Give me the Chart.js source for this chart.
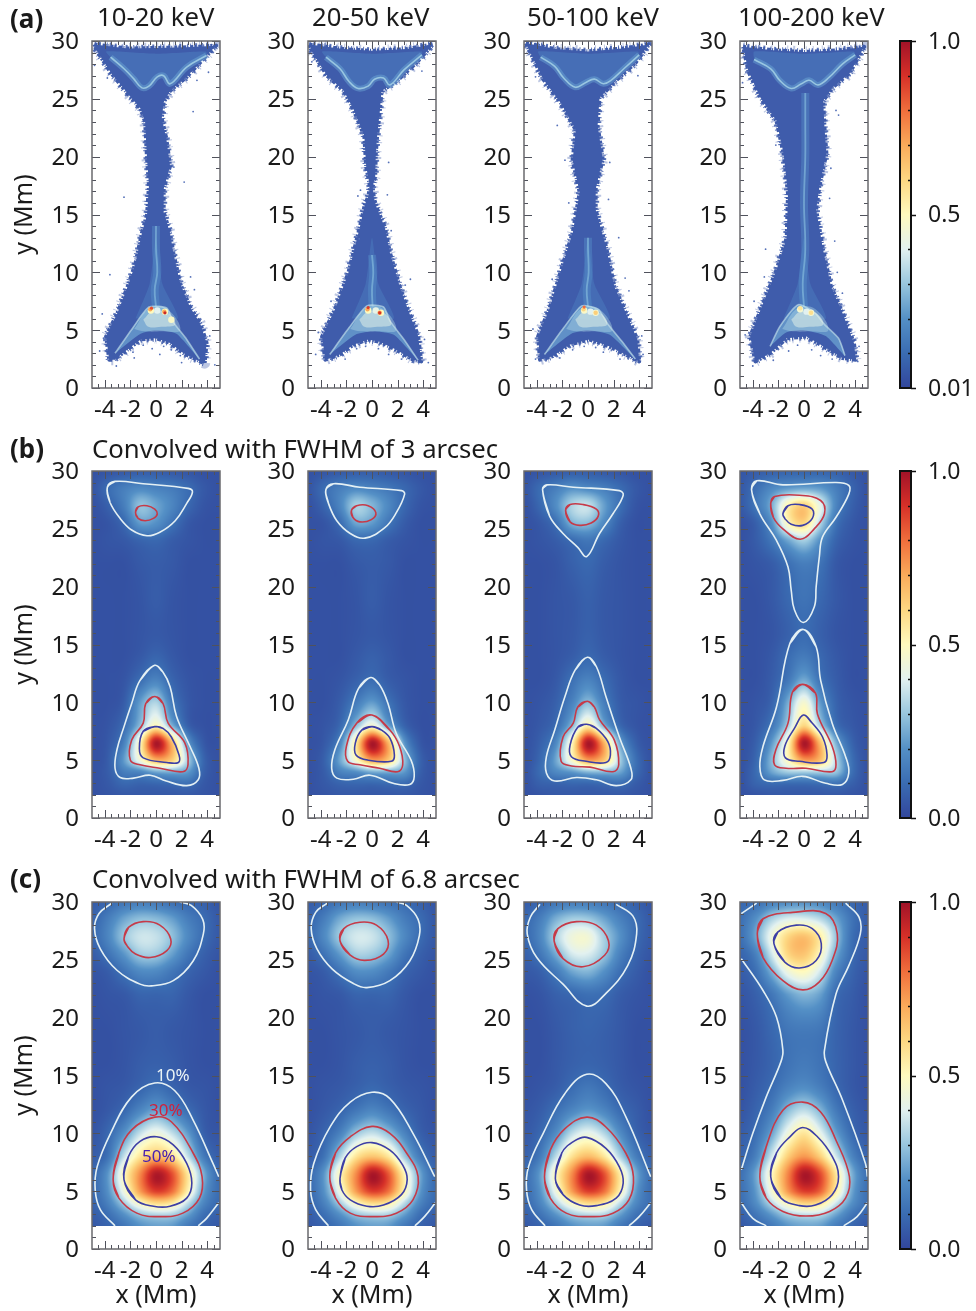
<!DOCTYPE html>
<html>
<head>
<meta charset="utf-8">
<script src="https://cdn.jsdelivr.net/npm/chart.js@4/dist/chart.umd.min.js"></script>
<style>
html, body { margin: 0; background: #fff; }
#page { position: relative; width: 976px; height: 1311px; overflow: hidden; font-family: "Noto Sans", sans-serif; color: #1a1a1a; }
#page canvas { position: absolute; }
.txt { position: absolute; white-space: nowrap; font-size: 25.7px; line-height: 30px; }
.tag { font-weight: 700; font-size: 26px; }
.lvl { font-size: 17px; line-height: 20px; }
</style>
</head>
<body>
<div id="page"></div>
<script>
const xTicks = [-4, -2, 0, 2, 4];
const yTicks = [0, 5, 10, 15, 20, 25, 30];
const xMinor = [-4.5, -3.5, -3, -2.5, -1.5, -1, -0.5, 0.5, 1, 1.5, 2.5, 3, 3.5, 4.5];
const yMinor = [1, 2, 3, 4, 6, 7, 8, 9, 11, 12, 13, 14, 16, 17, 18, 19, 21, 22, 23, 24, 26, 27, 28, 29];
const barTicks = [0, 0.5, 1];
const barMinor = [0.1, 0.2, 0.3, 0.4, 0.6, 0.7, 0.8, 0.9];
const barLabelsA = ["0.01", "0.5", "1.0"];
const barLabelsBC = ["0.0", "0.5", "1.0"];
const energies = ["10-20 keV", "20-50 keV", "50-100 keV", "100-200 keV"];

const mapStops = [0, 0.1, 0.2, 0.3, 0.4, 0.5, 0.6, 0.7, 0.8, 0.9, 1];
const mapColors = [[50,70,156],[58,108,178],[84,144,198],[152,198,222],[226,241,240],[255,250,190],[253,216,130],[250,170,90],[240,110,60],[214,48,40],[160,18,40]];

// heat maps: percent of peak, rows go from y=2 up to y=30
const gridX = [-5, -3.75, -2.5, -1.25, 0, 1.25, 2.5, 3.75, 5];
const gridY = [2, 3, 4, 5, 6.5, 8, 10, 12, 14, 16, 19, 22, 24, 25.5, 27, 28.5, 30];

const heatB1 = [
 [3,4,5,5,5,5,5,4,3],[3,5,9,8,9,10,11,5,3],[3,6,15,18,25,26,22,7,3],[3,6,22,45,68,62,32,8,3],
 [3,5,16,50,98,66,22,5,3],[3,4,10,28,50,26,7,3,3],[3,3,6,22,33,14,5,3,3],[3,3,4,10,16,8,4,3,3],
 [3,3,3,5,8,5,3,3,3],[3,3,3,4,5,4,3,3,3],[3,3,3,4,6,4,3,3,3],[3,3,3,5,6,5,3,3,3],
 [3,4,5,8,9,6,4,3,3],[3,4,9,22,20,12,5,3,3],[3,7,15,29,24,17,9,4,3],[4,10,15,18,16,14,10,5,3],[3,4,5,6,6,5,4,3,3]];
const heatB2 = [
 [3,4,5,5,5,5,5,4,3],[3,5,8,9,9,10,10,5,3],[3,6,16,20,26,26,22,7,3],[3,7,24,48,72,64,30,8,3],
 [3,5,17,55,98,68,22,5,3],[3,4,9,28,46,24,8,3,3],[3,3,6,14,22,12,5,3,3],[3,3,4,7,10,6,4,3,3],
 [3,3,3,5,7,5,3,3,3],[3,3,3,4,5,4,3,3,3],[3,3,3,4,6,4,3,3,3],[3,3,3,5,6,5,3,3,3],
 [3,4,5,9,9,6,4,3,3],[3,4,10,24,22,13,6,3,3],[3,8,17,32,27,18,9,4,3],[4,10,15,18,16,13,9,5,3],[3,4,5,6,6,5,4,3,3]];
const heatB3 = [
 [3,4,5,5,5,5,5,4,3],[3,7,8,9,9,10,11,6,3],[3,10,18,22,28,28,24,10,3],[3,9,24,48,72,64,32,11,3],
 [3,7,18,50,98,68,24,7,3],[3,5,10,27,52,26,9,4,3],[3,4,7,16,28,15,6,4,3],[3,3,5,11,16,10,5,3,3],
 [3,3,4,6,9,6,4,3,3],[3,3,4,5,7,5,4,3,3],[3,3,4,5,7,5,4,3,3],[3,3,4,7,9,6,4,3,3],
 [3,4,6,10,13,9,5,3,3],[3,5,11,26,28,18,7,3,3],[3,9,19,33,36,23,11,4,3],[4,10,15,20,18,15,10,5,3],[3,4,5,6,6,5,4,3,3]];
const heatB4 = [
 [3,4,5,5,5,5,5,4,3],[3,8,10,10,10,11,12,7,3],[3,10,24,32,33,33,30,11,3],[3,9,28,50,72,66,34,11,3],
 [3,7,22,50,98,66,26,8,3],[3,5,13,32,60,33,11,5,3],[3,4,8,25,46,22,8,4,3],[3,3,6,13,24,12,6,3,3],
 [3,3,5,10,14,9,5,3,3],[3,3,4,7,10,7,4,3,3],[3,3,5,9,12,9,5,3,3],[3,4,6,11,15,12,5,3,3],
 [3,6,13,24,32,20,8,4,3],[3,7,20,50,60,34,12,5,3],[5,13,26,52,62,42,17,7,3],[5,11,18,22,24,22,15,8,3],[4,6,7,8,8,8,7,5,3]];
const heatC1 = [
 [5,8,13,20,23,22,14,8,5],[6,11,20,30,34,33,23,11,7],[8,16,32,50,60,56,36,17,9],[9,20,44,72,88,80,52,22,10],
 [9,21,50,75,97,85,55,25,9],[6,12,36,56,65,58,36,14,6],[4,9,20,36,44,36,22,7,4],[3,5,9,17,23,17,10,5,3],
 [3,4,5,8,11,8,5,4,3],[3,3,4,6,7,6,4,3,3],[3,3,4,5,6,5,4,3,3],[3,4,5,8,8,8,5,3,3],
 [4,6,12,18,18,13,8,5,3],[6,12,21,31,31,23,13,7,4],[9,17,30,37,36,29,18,10,5],[8,15,24,29,28,23,15,10,5],[6,9,13,15,14,11,9,7,4]];
const heatC2 = [
 [5,8,13,20,23,22,14,8,5],[6,11,20,30,34,33,23,11,7],[8,16,32,50,60,56,36,17,9],[9,20,44,72,88,80,52,22,10],
 [9,21,50,75,98,84,52,24,9],[6,12,33,56,64,56,32,14,6],[4,8,16,30,36,29,17,7,4],[3,5,8,13,17,13,8,5,3],
 [3,4,5,7,9,7,5,4,3],[3,3,4,6,7,6,4,3,3],[3,3,4,5,6,5,4,3,3],[3,4,5,8,8,8,5,3,3],
 [4,6,12,19,19,14,8,5,3],[6,12,22,32,31,24,13,7,4],[9,18,31,38,37,29,18,10,5],[8,15,25,30,29,23,15,10,5],[6,9,13,15,14,12,10,7,4]];
const heatC3 = [
 [5,8,13,20,23,22,14,8,5],[7,12,21,31,35,34,23,12,8],[9,17,33,50,60,56,36,18,10],[10,20,44,72,88,80,52,22,10],
 [10,22,50,75,98,85,54,25,10],[7,14,35,57,66,56,33,15,7],[5,9,19,35,42,34,19,8,4],[4,6,11,17,21,17,10,6,3],
 [3,4,6,10,13,10,6,4,3],[3,3,5,7,8,7,5,3,3],[3,3,5,7,8,7,5,3,3],[3,4,7,9,11,10,6,4,3],
 [5,7,14,24,27,20,11,6,3],[7,13,25,38,39,30,16,8,4],[9,17,33,44,45,32,20,10,5],[9,15,26,32,31,24,16,10,5],[6,9,13,15,15,13,10,7,4]];
const heatC4 = [
 [5,9,14,21,24,23,15,9,5],[7,13,22,32,36,35,24,13,8],[10,19,35,52,62,58,38,20,11],[11,22,46,73,88,82,54,24,11],
 [11,24,50,76,98,86,56,26,11],[8,16,38,62,73,62,38,17,8],[6,11,24,44,56,42,23,10,5],[4,8,15,28,35,27,14,7,4],
 [3,6,10,16,19,15,9,5,3],[3,5,8,12,14,12,8,5,3],[3,5,9,13,14,13,8,5,3],[4,7,13,22,27,23,10,6,3],
 [6,11,26,44,50,38,17,8,4],[8,16,38,60,64,50,25,10,5],[11,24,44,60,65,54,30,11,6],[11,20,33,40,40,35,24,12,6],[9,11,16,19,20,18,14,9,6]];

// contours of row b
const b1WhiteTop = [[-3.8,28.6],[-3.2,29.1],[-1,28.9],[2.5,28.5],[2.85,28.2],[2.4,27.2],[1.5,25.7],[0.3,24.7],[-0.7,24.4],[-1.9,24.9],[-2.8,25.9],[-3.6,27.3],[-3.8,28.6]];
const b1RedTop = [[-1.6,26.4],[-1.4,26.9],[-0.7,27],[-0.1,26.7],[0.1,26.3],[-0.2,25.9],[-0.85,25.7],[-1.4,25.9],[-1.6,26.4]];
const b1WhiteLow = [[-0.1,13.2],[-1.25,11.9],[-1.9,9.9],[-2.5,7.9],[-3.05,5.9],[-3.2,4.3],[-2.8,3.5],[-1.75,3.45],[-0.45,3.7],[0.8,3.2],[2.4,2.8],[3.3,3.3],[3.35,4.3],[2.65,6.2],[1.6,8.8],[1.1,11.35],[0.55,12.6],[-0.1,13.2]];
const b1RedLow = [[-0.1,10.5],[-0.8,9.9],[-1,8.2],[-1.9,6.75],[-2,5],[-1.25,4.6],[0.3,4.3],[2.1,4],[2.5,4.6],[2.25,6.5],[0.95,8.2],[0.55,9.9],[-0.1,10.5]];
const b1BlueLow = [[-0.1,7.9],[-1,7.5],[-1.3,6],[-1,5.2],[0.85,4.8],[1.75,4.8],[1.8,5.45],[1.2,7],[0.55,7.75],[-0.1,7.9]];

const b2WhiteTop = [[-3.6,28.4],[-3,28.9],[-0.95,28.6],[2.3,28.3],[2.55,28],[1.9,26.4],[1,25.1],[-0.55,24.2],[-1.7,24.6],[-2.75,25.7],[-3.4,27.2],[-3.6,28.4]];
const b2RedTop = [[-1.6,26.6],[-1.2,27],[-0.3,27],[0.3,26.4],[-0.05,25.8],[-0.95,25.6],[-1.5,26],[-1.6,26.6]];
const b2WhiteLow = [[-0.1,12.15],[-1.05,11.2],[-1.85,8.5],[-2.9,5.9],[-3.15,4.3],[-2.75,3.45],[-1.45,3.35],[-0.15,3.7],[1.65,3],[2.95,2.9],[3.3,3.6],[3.05,5],[1.9,7.3],[1.25,9.9],[0.6,11.5],[-0.1,12.15]];
const b2RedLow = [[0,8.9],[-1.2,8.2],[-2,6.2],[-1.9,4.9],[-0.95,4.6],[0.6,4.3],[2,4],[2.4,4.6],[2.15,6.2],[1.4,7.6],[0,8.9]];
const b2BlueLow = [[0,7.9],[-0.8,7.6],[-1.3,6.5],[-1.25,5.45],[-0.3,5],[1.5,4.9],[1.75,5.45],[1.4,6.9],[0.75,7.6],[0,7.9]];

const b3WhiteTop = [[-3.55,28.4],[-3.2,28.8],[-1.15,28.6],[2.45,28.3],[2.75,27.9],[1.95,26.3],[0.9,24.6],[-0.1,22.6],[-0.8,23.4],[-1.95,24.6],[-3,26.1],[-3.55,28.4]];
const b3RedTop = [[-1.75,26.6],[-1.4,27.1],[-0.4,27.1],[0.65,26.7],[0.8,26.1],[0.25,25.5],[-0.65,25.3],[-1.4,25.6],[-1.75,26.6]];
const b3WhiteLow = [[-0.05,13.9],[-1,12.8],[-1.8,10.5],[-2.6,7.6],[-3.25,5.3],[-3.25,3.9],[-2.6,3.2],[-0.9,3.5],[0.65,3.3],[2.2,2.8],[3.35,3.3],[3.35,4.3],[2.45,7],[1.4,10.5],[0.65,13.1],[-0.05,13.9]];
const b3RedLow = [[-0.05,10.1],[-0.8,9.6],[-1.15,8.2],[-1.95,7],[-2.1,4.9],[-1.3,4.5],[0.15,4.4],[1.95,4],[2.4,4.6],[2.05,6.75],[0.9,8.5],[0.5,9.6],[-0.05,10.1]];
const b3BlueLow = [[-0.1,8.1],[-0.8,7.85],[-1.4,6.3],[-1.3,5.3],[-0.15,4.9],[1.4,4.8],[1.75,5.45],[1.55,6.6],[0.65,7.75],[-0.1,8.1]];

const b4WhiteTop = [[-4.1,28.4],[-3.7,29.15],[-1.65,28.8],[2.5,29],[3.5,28.75],[3.5,28],[2.5,26],[1.45,24.3],[1.2,22.6],[0.95,20],[0.8,18.25],[-0.05,16.9],[-0.75,18],[-1,19.7],[-1.25,21.7],[-2.15,24],[-3.45,26.3],[-4.1,28.4]];
const b4RedTop = [[-2.6,27.2],[-2.3,27.8],[-0.35,27.9],[1.3,27.45],[1.6,26.3],[0.8,25],[-0.3,24.1],[-1.65,25],[-2.4,26],[-2.6,27.2]];
const b4BlueTop = [[-1.65,26.3],[-1.25,27],[-0.35,27.1],[0.65,26.7],[0.65,25.9],[-0.1,25.3],[-1,25.4],[-1.5,25.9],[-1.65,26.3]];
const b4WhiteLow = [[-0.05,16.3],[-1.1,15.1],[-2.15,9.6],[-3.2,6.2],[-3.45,4.45],[-3.1,3.3],[-1.65,3.25],[-0.1,3.6],[1.7,3],[3,2.9],[3.5,3.9],[3.25,5.3],[2.2,8.2],[1.3,11.9],[0.95,14.8],[-0.05,16.3]];
const b4RedLow = [[-0.1,11.55],[-0.9,10.9],[-1.25,8.2],[-2.2,5.9],[-2.3,4.6],[-1.4,4.3],[0.15,4.3],[2.2,4],[2.5,4.6],[2.2,6.2],[1.05,9],[0.9,10.8],[-0.1,11.55]];
const b4BlueLow = [[-0.05,8.9],[-0.75,7.75],[-1.5,6.2],[-1.45,5.2],[-0.35,4.9],[1.55,4.8],[1.8,5.45],[1.45,7],[0.65,8.2],[-0.05,8.9]];

// contours of row c
const c1WhiteTop = [[-3.45,29.9],[-4.45,29],[-4.8,27.7],[-4.35,25.95],[-3.05,24.1],[-1.25,22.9],[-0.35,22.75],[1.35,23.2],[2.9,24.9],[3.7,27.25],[3.65,28.5],[2.75,29.7],[1.85,30]];
const c1RedTop = [[-2.5,26.8],[-2.15,27.8],[-1,28.3],[0.3,28],[1.15,26.8],[0.85,25.8],[-0.45,25.2],[-1.6,25.5],[-2.25,26.2],[-2.5,26.8]];
const c1WhiteLow = [[-3.2,2],[-4.35,3.4],[-4.75,5.1],[-4.6,7.1],[-3.55,10],[-1.9,13.15],[-0.1,14.35],[1.45,13.7],[2.9,11.15],[4.45,7.4],[4.9,6.25]];
const c1WhiteCorner = [[4.9,4],[3.95,2.65],[3.3,2]];
const c1RedLow = [[-3.35,6],[-2.9,8.3],[-1.9,10.3],[-0.1,11.4],[1.2,11],[2.9,8.3],[3.6,6.25],[3.4,4.4],[2.1,3.1],[0.3,2.8],[-1.5,3.1],[-2.9,4.4],[-3.35,6]];
const c1BlueLow = [[-2.5,6],[-2.15,8],[-1.25,9.3],[0.05,9.7],[1.35,9],[2.4,7.4],[2.8,5.7],[2.4,4.4],[1.1,3.7],[-0.2,3.7],[-1.6,4.25],[-2.5,6]];

const c2WhiteTop = [[-3.5,29.9],[-4.4,29.1],[-4.75,27.7],[-4.3,25.95],[-3.1,24.2],[-1.45,22.95],[-0.4,22.6],[1.4,23.2],[2.95,24.9],[3.7,27.1],[3.6,28.5],[2.7,29.7],[1.9,30]];
const c2RedTop = [[-2.5,26.65],[-2.2,27.7],[-0.95,28.25],[0.35,28],[1.25,26.7],[0.9,25.5],[-0.55,24.95],[-1.7,25.4],[-2.5,26.65]];
const c2WhiteLow = [[-3.4,2],[-4.4,3.4],[-4.8,5.1],[-4.55,7.4],[-3.25,10.6],[-1.7,12.7],[0,13.55],[1.4,13],[3.2,10],[4.9,6.25]];
const c2WhiteCorner = [[4.95,4],[4.1,2.8],[3.35,2]];
const c2RedLow = [[-3.3,6.25],[-2.85,8.3],[-1.7,9.7],[0,10.6],[1.4,10],[2.7,8.3],[3.6,6.25],[3.2,4.25],[1.9,3.1],[0.1,2.8],[-1.7,3.1],[-2.85,4.4],[-3.3,6.25]];
const c2BlueLow = [[-2.5,6.1],[-2.1,7.85],[-1.2,8.85],[0,9.2],[1.4,8.55],[2.4,7.25],[2.75,6],[2.3,4.7],[0.9,3.8],[-0.4,3.7],[-1.7,4.25],[-2.35,5.1],[-2.5,6.1]];

const c3WhiteTop = [[-3.75,29.8],[-4.5,28.7],[-4.75,27.25],[-4,25.2],[-1.95,22.9],[-0.1,21],[1.4,22.1],[3.1,24.5],[3.8,27.25],[3.5,28.8],[2.2,29.8]];
const c3RedTop = [[-2.65,26.65],[-2.35,27.7],[-0.9,28.3],[0.65,28],[1.6,26.65],[1.3,25.4],[-0.4,24.4],[-1.95,25.1],[-2.65,26.65]];
const c3WhiteLow = [[-3.35,2],[-4.4,3.4],[-4.8,5.1],[-4.65,7.1],[-3.5,10],[-1.8,13.45],[-0.1,15.1],[1.4,14.3],[2.95,11.45],[4.9,6.25]];
const c3WhiteCorner = [[4.9,4],[4,2.8],[3.2,2]];
const c3RedLow = [[-3.4,6.25],[-2.95,8.55],[-1.8,10.4],[-0.1,11.4],[1.4,10.55],[2.95,8.3],[3.55,6.25],[3.2,4.25],[1.95,3.1],[0.15,2.8],[-1.7,3.1],[-2.95,4.4],[-3.4,6.25]];
const c3BlueLow = [[-2.55,6.1],[-2.05,8.3],[-1.05,9.35],[-0.1,9.65],[1.4,8.7],[2.45,7.1],[2.75,5.7],[2.2,4.4],[0.65,3.75],[-0.65,3.8],[-1.95,4.7],[-2.55,6.1]];

const c4WhiteLeft = [[-4.9,25.1],[-3.2,22.35],[-2.15,20.05],[-1.65,17.2],[-1.8,16.2],[-2.95,13.15],[-4,10],[-4.9,6.85]];
const c4WhiteRight = [[3.25,29.9],[4.3,28.7],[4.4,27.25],[3.5,24.5],[2.5,22.05],[1.6,17.2],[1.7,16.2],[3,12.9],[4.8,7.4],[4.95,6.25]];
const c4WhiteCornerTop = [[-4.9,29],[-3.7,29.9]];
const c4WhiteCornerL = [[-4.9,4],[-4,2.65],[-2.95,2]];
const c4WhiteCornerR = [[4.95,4],[4.15,2.8],[3.1,2]];
const c4RedTop = [[-3.65,27.25],[-3.2,28.55],[-0.9,29.1],[1.7,29],[2.6,27.25],[2.2,24.95],[1.2,23.1],[-0.1,22.4],[-1.65,23.2],[-3.2,25.2],[-3.65,27.25]];
const c4BlueTop = [[-2.35,26.4],[-2.05,27.4],[-0.6,28],[0.65,27.7],[1.35,26.4],[0.95,24.95],[-0.35,24.3],[-1.5,24.8],[-2.35,26.4]];
const c4RedLow = [[-3.45,6.25],[-2.95,8.85],[-1.65,12],[-0.1,12.7],[1.3,11.85],[2.5,9.4],[3.55,6.25],[3.25,4.4],[2,3.25],[0.15,2.85],[-1.65,3.25],[-2.95,4.4],[-3.45,6.25]];
const c4BlueLow = [[-2.6,6.25],[-2.15,8.3],[-1.1,9.7],[-0.1,10.5],[1.05,9.7],[2.2,8],[2.7,6.25],[2.2,4.7],[0.9,3.8],[-0.35,3.75],[-1.8,4.4],[-2.6,6.25]];

// row a: outline of the particle cloud, bright arcs, arch over the footpoints, hot pixels [x, y, percent]
const a1Outline = [[-4.8,29.7],[-2.2,29.35],[0,29.4],[2.4,29.45],[4.7,29.6],[3.95,28.75],[2.4,26.9],[1.1,25.7],[0.6,24.7],[0.45,23.3],[0.8,21.6],[1.1,19.2],[0.6,17.2],[0.6,15.2],[1.1,13.4],[1.35,11.7],[1.9,9],[2.65,7],[3.45,5.6],[3.95,3.9],[3.8,2.15],[3.45,2.3],[2.15,3],[1.1,3.9],[0,4.3],[-1.2,4.2],[-2.25,3.3],[-3.3,2.45],[-3.65,2.45],[-3.9,4.45],[-3,6.5],[-2.1,9.1],[-1.6,10.8],[-1.1,13.4],[-0.7,15],[-0.55,17.5],[-0.7,19.8],[-0.85,23],[-1.2,24.15],[-2.1,25.3],[-3.55,27.3],[-4.7,29.3],[-4.8,29.7]];
const a2Outline = [[-4.9,29.7],[-2.2,29.3],[0,29.15],[2.7,29.3],[4.75,29.7],[3.45,28.1],[1.9,26.5],[0.75,25.7],[0.6,23.8],[0.4,21.8],[0.3,20.3],[0.25,18.3],[0.05,17.4],[0.15,16.4],[0.4,15.5],[1,13.9],[1.4,11.7],[2.15,8.8],[2.8,6.8],[3.6,4.5],[3.85,2.3],[3.2,2.45],[1.9,3.3],[0.6,4],[-0.3,4.2],[-1.45,3.75],[-2.5,2.9],[-3.65,2.45],[-3.9,4.45],[-2.85,6.9],[-1.85,9.95],[-0.95,13.9],[-0.55,15.9],[-0.3,16.5],[-0.15,17.4],[-0.45,19.1],[-0.6,21.8],[-1.45,24.1],[-2.2,25.7],[-3.5,27],[-4.7,29.1],[-4.9,29.7]];
const a3Outline = [[-4.85,29.8],[-2.5,29.3],[0,29.1],[2.7,29.35],[4.75,29.7],[3.7,28.1],[2.15,26.55],[0.9,25.1],[0.75,22.7],[1.15,19.8],[0.6,17.2],[0.6,15.4],[1.4,12.25],[2.05,8.8],[2.95,6.5],[3.85,4.2],[4,2.3],[3.2,2.75],[1.65,3.6],[0.1,4.2],[-1.45,3.75],[-2.75,2.75],[-3.75,2.45],[-3.9,4.45],[-3,6.9],[-1.85,11.1],[-1.2,13.4],[-0.65,16.9],[-1.2,19.7],[-0.95,22.3],[-2.1,24.6],[-3.5,26.7],[-4.55,29.1],[-4.85,29.8]];
const a4Outline = [[-4.75,29.5],[-2.4,29.2],[0,29.05],[2.75,29.2],[4.7,29.5],[3.55,27.2],[2.25,26],[1.5,24.85],[1.6,22.5],[1.75,20.3],[1.2,17.4],[0.95,15.4],[1.5,11.9],[2.1,8.8],[3,6.5],[3.9,3.9],[4.05,2.45],[3,2.6],[1.5,3.6],[0.2,4.45],[-1.35,4.3],[-2.65,3],[-3.8,2.3],[-4.2,4.45],[-3.2,7.3],[-2.15,10.2],[-1.35,13],[-1.25,16.8],[-1.6,20.3],[-2.15,23.1],[-3.4,25.1],[-4.35,27.4],[-4.75,29.5]];

const a1Arc = [[-3.55,28.6],[-2.5,27.6],[-1.75,26.75],[-1.1,25.95],[-0.55,26.1],[0.1,26.9],[0.6,27],[1.1,26.3],[2.4,27.75],[3.95,28.75]];
const a2Arc = [[-3.6,28.6],[-2.5,27.6],[-1.8,26.5],[-1.1,25.9],[-0.3,26.1],[0.2,26.7],[0.9,26.8],[1.4,26.2],[2.5,27.5],[3.9,28.8]];
const a3Arc = [[-3.7,28.6],[-2.6,27.8],[-1.9,26.8],[-1,26],[-0.2,26.4],[0.5,26.7],[1.2,26.3],[1.8,26.6],[2.8,27.6],[4,28.8]];
const a4Arc = [[-3.9,28.4],[-2.6,27.6],[-1.9,26.6],[-1,25.9],[-0.2,26.3],[0.4,26.6],[1.1,26.2],[2,26.9],[3,28],[4,28.8]];
const topEdge = [[3.9,29.1],[0,28.9],[-3.9,29.1]];

const a1Arch = [[-3.2,3],[-1.75,5.3],[-0.55,7],[0.85,6.9],[1.35,5.7],[2.4,4.2],[3.4,2.5],[1.6,4.7],[0,5],[-1.2,4.7],[-3.2,3]];
const a2Arch = [[-3.3,2.9],[-1.8,5.2],[-0.4,7.1],[0.9,7],[1.4,5.8],[2.5,4.2],[3.6,2.4],[1.7,4.6],[0,4.9],[-1.3,4.6],[-3.3,2.9]];
const a3Arch = [[-3.4,2.9],[-1.9,5.2],[-0.5,7.1],[0.8,6.8],[1.5,5.6],[2.6,4.1],[3.7,2.5],[1.7,4.6],[0,5],[-1.3,4.7],[-3.4,2.9]];
const a4Arch = [[-2.65,3.6],[-1.9,5.3],[-0.45,7.2],[0.85,6.5],[1.6,5.5],[2.7,4.3],[3.2,2.8],[1.7,4.5],[0,5],[-1.4,4.8],[-2.65,3.6]];
const archMid = [[-1.7,5.1],[-0.5,6.9],[0.9,6.8],[1.9,5],[0.5,4.9],[-0.9,4.9],[-1.7,5.1]];
const archCore = [[-1,5.9],[-0.3,6.6],[0.9,6.5],[1.5,5.5],[0.4,5.3],[-0.6,5.3],[-1,5.9]];
const fanGlow = [[-1.6,6],[-0.5,9],[0,13],[0.5,9],[1.7,6],[-1.6,6]];

const a1Column = [[0,7],[-0.1,8.5],[0.1,10],[0,12],[0,14]];
const a2Column = [[0.05,7],[0,8.5],[0.1,10],[0,11.5]];
const a3Column = [[0,7],[-0.1,8.5],[0.05,10],[0,12],[0,13]];
const a4Column = [[0,7],[-0.1,9],[0.1,12],[0,16],[0.1,20],[0.1,23],[0.1,25.5]];

const a1Hot = [[-0.4,6.7,50],[0.1,6.7,40],[0.7,6.6,50],[1.2,5.9,48],[-0.45,6.8,70],[0.65,6.6,70],[-0.35,6.9,85],[0.7,6.5,92]];
const a2Hot = [[-0.3,6.7,50],[0.3,6.7,42],[0.7,6.5,50],[-0.35,6.8,70],[0.6,6.5,72],[-0.3,6.95,88],[0.6,6.5,90]];
const a3Hot = [[-0.3,6.7,48],[0.2,6.6,40],[0.6,6.5,46],[-0.35,6.8,60],[0.6,6.5,62],[-0.3,7,80]];
const a4Hot = [[-0.3,6.8,46],[0.2,6.6,40],[0.55,6.5,46],[-0.3,6.9,56],[0.55,6.5,58]];

const a1Stray = [[-4.8,27.9],[-3.8,26.8],[3.2,26.6],[4.1,27.3],[2.2,17.8],[1.4,19.1],[-2.5,16.5],[2.9,23.9],[-3.6,9.8],[2.7,9.6],[3,8.5],[-4.2,6.4],[-4.1,4.3],[4.2,4.5],[-4.4,3.2],[4.6,2],[-3.1,1.9],[-1.7,2.6],[0.3,2.9],[2,2.2],[-1,3.7],[-0.3,3.4],[0.6,3.6],[1.2,3.3],[-1.8,3.1],[1.9,2.8]];
const a2Stray = [[-4.7,28.2],[3.9,27.4],[1.3,19.5],[-1.1,16.6],[-0.9,17.1],[1.2,16.7],[2.6,8.9],[3,9.4],[-3.2,7.5],[-4.2,4.8],[4.1,4.2],[-4.4,2.9],[4.4,2.2],[-1.2,3.4],[-0.5,3.6],[0.5,3.4],[1.3,2.9],[-2.1,2.5],[2.3,2.5],[-1,12.9],[1.5,13.6]];
const a3Stray = [[-4.1,26.9],[3.9,27],[-2.4,22.7],[-1.8,19.7],[1.7,19.5],[1.6,16.3],[-1.5,16],[2.4,13],[2.9,9.5],[-2.8,9.4],[-4.3,5.1],[4.2,4.5],[4.3,2.9],[-4.1,2.5],[-1.2,3.3],[-0.3,3.6],[0.6,3.5],[1.2,3.1],[-2.2,2.6],[2.5,2.5],[3.2,8.4]];
const a4Stray = [[-4.8,26.4],[-4.5,28],[3.6,27],[2.5,24],[2.7,23.6],[-2.2,21],[2.1,19],[2,16.4],[2.4,12.7],[-3,12],[-3.1,9.6],[2.6,10],[3,8.2],[-3.9,7.5],[-4.6,4.6],[4.3,3.6],[4.2,2.3],[-4,1.9],[-1.2,3.2],[-0.5,3.7],[0.6,3.3],[1.3,2.8],[-2.4,2.4],[2.2,2.5]];

const white = "#e4f0f4", red = "#c63a48", blue = "#3d3fa6";
const hotRadius = v => v > 78 ? 1.6 : v > 55 ? 2.2 : 3.2;

const colL = [92, 307.5, 524, 740];
const rowT = [41, 471, 902];
const plotW = 128.5, plotH = 347;
const page = document.getElementById("page");

function colorAt(t) {
    t = Math.max(0, Math.min(1, t));
    let i = Math.min(Math.floor(t * 10), 9);
    const f = (t - mapStops[i]) / (mapStops[i + 1] - mapStops[i]);
    return mapColors[i].map((c, k) => c + (mapColors[i + 1][k] - c) * f);
}

const catmull = (a, b, c, d, t) => b + 0.5 * t * (c - a + t * (2 * a - 5 * b + 4 * c - d + t * (3 * (b - c) + d - a)));

function fieldAt(grid, xv, yv) {
    const fx = Math.max(0, Math.min(gridX.length - 1.001, (xv - gridX[0]) / (gridX[1] - gridX[0])));
    let j = 0;
    while (j < gridY.length - 2 && yv > gridY[j + 1]) j++;
    const fy = Math.max(0, Math.min(1, (yv - gridY[j]) / (gridY[j + 1] - gridY[j])));
    const i = Math.floor(fx), tx = fx - i;
    const rows = [];
    for (let r = j - 1; r <= j + 2; r++) {
        const row = grid[Math.max(0, Math.min(grid.length - 1, r))];
        const at = k => row[Math.max(0, Math.min(row.length - 1, k))];
        rows.push(catmull(at(i - 1), at(i), at(i + 1), at(i + 2), tx));
    }
    return catmull(rows[0], rows[1], rows[2], rows[3], fy);
}

// paints the grid behind the datasets, pixel to value through the chart's own scales
function heatPlugin(grid) {
    return {
        id: "heat",
        beforeDatasetsDraw(chart) {
            const { x, y } = chart.scales, a = chart.chartArea;
            const top = Math.round(y.getPixelForValue(30)), bottom = Math.round(y.getPixelForValue(2));
            const left = Math.round(a.left), w = Math.round(a.width), h = bottom - top;
            const img = chart.ctx.createImageData(w, h);
            for (let py = 0; py < h; py++) {
                const yv = y.getValueForPixel(top + py + 0.5);
                for (let px = 0; px < w; px++) {
                    const c = colorAt(fieldAt(grid, x.getValueForPixel(left + px + 0.5), yv) / 100);
                    const o = (py * w + px) * 4;
                    img.data[o] = c[0]; img.data[o + 1] = c[1]; img.data[o + 2] = c[2]; img.data[o + 3] = 255;
                }
            }
            chart.ctx.putImageData(img, left, top);
        }
    };
}

const framePlugin = {
    id: "frame",
    afterDatasetsDraw(chart) {
        const { ctx, chartArea: a, scales: { x, y } } = chart;
        ctx.save();
        ctx.strokeStyle = "#50525c";
        ctx.lineWidth = 1;
        const tx = (v, len) => {
            const p = Math.round(x.getPixelForValue(v)) + 0.5;
            ctx.moveTo(p, a.top); ctx.lineTo(p, a.top + len);
            ctx.moveTo(p, a.bottom); ctx.lineTo(p, a.bottom - len);
        };
        const ty = (v, len) => {
            const p = Math.round(y.getPixelForValue(v)) + 0.5;
            ctx.moveTo(a.left, p); ctx.lineTo(a.left + len, p);
            ctx.moveTo(a.right, p); ctx.lineTo(a.right - len, p);
        };
        ctx.beginPath();
        xTicks.forEach(v => tx(v, 8));
        xMinor.forEach(v => tx(v, 4));
        yTicks.forEach(v => ty(v, 8));
        yMinor.forEach(v => ty(v, 4));
        ctx.stroke();
        ctx.strokeStyle = "#6a6a6e";
        ctx.lineWidth = 1.5;
        ctx.strokeRect(a.left, a.top, a.width, a.height);
        ctx.restore();
    }
};

const toXY = pts => pts.map(p => ({ x: p[0], y: p[1] }));
const zeroPad = s => { s.paddingTop = s.paddingBottom = s.paddingLeft = s.paddingRight = 0; };

function line(pts, color, width, tension = 0.4) {
    const first = pts[0], last = pts[pts.length - 1];
    const closed = first[0] === last[0] && first[1] === last[1];
    // closed contours run over their join so the spline has no corner there
    const run = closed ? [pts[pts.length - 2], ...pts, pts[1]] : pts;
    return { data: toXY(run), showLine: true, borderColor: color, borderWidth: width, pointRadius: 0, tension, fill: false };
}

function shape(pts, fillColor, tension = 0.2) {
    return { data: toXY(pts), showLine: true, tension, pointRadius: 0, borderWidth: 0, backgroundColor: fillColor, fill: "shape" };
}

function edge(pts, color, width, dash) {
    return { data: toXY(pts), showLine: true, tension: 0, pointRadius: 0, borderColor: color, borderWidth: width, borderDash: dash, borderJoinStyle: "round", fill: false };
}

function cloudDatasets(outline, arc, arch, column, hot, stray) {
    const wash = [...arc, ...topEdge, arc[0]];
    const archTop = arch.slice(0, 7);
    return [
        edge(outline, "rgba(62,92,172,.35)", 11, [1, 8, 1, 5, 2, 11, 1, 6]),
        edge(outline, "rgba(62,92,172,.85)", 7, [1, 3, 2, 6, 1, 2, 1, 4, 2, 5]),
        edge(outline, "#3f5cab", 4, [3, 1, 2, 2, 4, 1, 1, 2]),
        shape(outline, "#3f5cab", 0),
        shape(wash, "rgba(80,135,198,.42)"),
        shape(fanGlow, "rgba(80,135,198,.38)"),
        line(column, "rgba(90,150,205,.38)", 8),
        line(column, "rgba(140,195,225,.6)", 1.8),
        line(arc, "rgba(110,170,215,.45)", 6),
        line(arc, "rgba(175,220,235,.75)", 1.6),
        shape(arch, "rgba(118,178,218,.6)"),
        shape(archMid, "rgba(180,220,232,.4)", 0.4),
        line(archTop, "rgba(205,233,238,.6)", 1.6, 0.2),
        shape(archCore, "rgba(232,244,232,.5)", 0.4),
        { data: toXY(hot), pointRadius: hot.map(p => hotRadius(p[2])), pointBorderWidth: 0, pointBackgroundColor: hot.map(p => { const c = colorAt(p[2] / 100); return `rgb(${c[0]},${c[1]},${c[2]})`; }) },
        { data: toXY(stray), pointRadius: 0.9, pointBorderWidth: 0, pointBackgroundColor: "#5470b8" }
    ];
}

function contourDatasets(items) {
    return items.map(([pts, color]) => line(pts, color, 1.6));
}

function addPanel(row, col, datasets, grid) {
    const ml = col === 0 ? 84 : 50, mt = 16, mr = 6, mb = row === 2 ? 62 : 34;
    const cv = document.createElement("canvas");
    cv.width = ml + plotW + mr;
    cv.height = mt + plotH + mb;
    cv.style.left = (colL[col] - ml) + "px";
    cv.style.top = (rowT[row] - mt) + "px";
    page.appendChild(cv);
    const tickFont = { family: "Noto Sans", size: 24 };
    const titleFont = { family: "Noto Sans", size: 25 };
    new Chart(cv, {
        type: "scatter",
        data: { datasets: datasets.map((d, i) => Object.assign({ order: -i }, d)) },
        plugins: (grid ? [heatPlugin(grid)] : []).concat(framePlugin),
        options: {
            responsive: false,
            animation: false,
            layout: { autoPadding: false, padding: { top: mt, right: mr, left: 0, bottom: 0 } },
            plugins: { legend: { display: false }, tooltip: { enabled: false }, title: { display: false } },
            scales: {
                x: {
                    type: "linear", min: -5, max: 5,
                    afterBuildTicks: s => { s.ticks = xTicks.map(v => ({ value: v })); },
                    afterFit: s => { s.height = mb; zeroPad(s); },
                    grid: { display: false, drawTicks: false },
                    border: { display: false },
                    ticks: { color: "#1a1a1a", font: tickFont, padding: 8, autoSkip: false, maxRotation: 0, callback: v => String(v) },
                    title: { display: row === 2, text: "x (Mm)", color: "#1a1a1a", font: titleFont, padding: { top: 0, bottom: 0 } }
                },
                y: {
                    type: "linear", min: 0, max: 30,
                    afterBuildTicks: s => { s.ticks = yTicks.map(v => ({ value: v })); },
                    afterFit: s => { s.width = ml; zeroPad(s); },
                    grid: { display: false, drawTicks: false },
                    border: { display: false },
                    ticks: { color: "#1a1a1a", font: tickFont, padding: 13, labelOffset: 1.5, autoSkip: false, callback: v => String(v) },
                    title: { display: col === 0, text: "y (Mm)", color: "#1a1a1a", font: titleFont, padding: { top: 2, bottom: 0 } }
                }
            }
        }
    });
}

function addColorbar(row, labels) {
    const barL = 900, barW = 11, ml = 6, mr = 70, mt = 16, mb = 18;
    const cv = document.createElement("canvas");
    cv.width = ml + barW + mr;
    cv.height = mt + plotH + mb;
    cv.style.left = (barL - ml) + "px";
    cv.style.top = (rowT[row] - mt) + "px";
    page.appendChild(cv);
    new Chart(cv, {
        type: "bar",
        data: {
            labels: ["scale"],
            datasets: [{
                data: [[0, 1]],
                barPercentage: 1,
                categoryPercentage: 1,
                borderWidth: 0,
                backgroundColor: c => {
                    const a = c.chart.chartArea;
                    if (!a) return "#000";
                    const g = c.chart.ctx.createLinearGradient(0, a.bottom, 0, a.top);
                    mapStops.forEach((s, i) => g.addColorStop(s, `rgb(${mapColors[i].join(",")})`));
                    return g;
                }
            }]
        },
        plugins: [{
            id: "barFrame",
            afterDatasetsDraw(chart) {
                const { ctx, chartArea: a, scales: { y } } = chart;
                ctx.save();
                ctx.strokeStyle = "#111";
                ctx.lineWidth = 1.5;
                ctx.beginPath();
                barTicks.forEach(v => { const p = Math.round(y.getPixelForValue(v)) + 0.5; ctx.moveTo(a.right, p); ctx.lineTo(a.right + 5, p); });
                barMinor.forEach(v => { const p = Math.round(y.getPixelForValue(v)) + 0.5; ctx.moveTo(a.right, p); ctx.lineTo(a.right - 3, p); });
                ctx.stroke();
                ctx.lineWidth = 2;
                ctx.strokeRect(a.left, a.top, a.width, a.height);
                ctx.restore();
            }
        }],
        options: {
            responsive: false,
            animation: false,
            layout: { autoPadding: false, padding: { top: mt, left: ml, right: 0, bottom: mb } },
            plugins: { legend: { display: false }, tooltip: { enabled: false } },
            scales: {
                x: { display: false },
                y: {
                    position: "right", min: 0, max: 1,
                    afterBuildTicks: s => { s.ticks = barTicks.map(v => ({ value: v })); },
                    afterFit: s => { s.width = mr; zeroPad(s); },
                    grid: { display: false, drawTicks: false },
                    border: { display: false },
                    ticks: { color: "#1a1a1a", font: { family: "Noto Sans", size: 23 }, padding: 17, labelOffset: 1, autoSkip: false, callback: (v, i) => labels[i] }
                }
            }
        }
    });
}

function addText(text, left, top, cls, color) {
    const d = document.createElement("div");
    d.className = "txt " + (cls || "");
    d.textContent = text;
    d.style.left = left + "px";
    d.style.top = top + "px";
    if (color) d.style.color = color;
    page.appendChild(d);
}

addPanel(0, 0, cloudDatasets(a1Outline, a1Arc, a1Arch, a1Column, a1Hot, a1Stray));
addPanel(0, 1, cloudDatasets(a2Outline, a2Arc, a2Arch, a2Column, a2Hot, a2Stray));
addPanel(0, 2, cloudDatasets(a3Outline, a3Arc, a3Arch, a3Column, a3Hot, a3Stray));
addPanel(0, 3, cloudDatasets(a4Outline, a4Arc, a4Arch, a4Column, a4Hot, a4Stray));

addPanel(1, 0, contourDatasets([[b1WhiteTop, white], [b1RedTop, red], [b1WhiteLow, white], [b1RedLow, red], [b1BlueLow, blue]]), heatB1);
addPanel(1, 1, contourDatasets([[b2WhiteTop, white], [b2RedTop, red], [b2WhiteLow, white], [b2RedLow, red], [b2BlueLow, blue]]), heatB2);
addPanel(1, 2, contourDatasets([[b3WhiteTop, white], [b3RedTop, red], [b3WhiteLow, white], [b3RedLow, red], [b3BlueLow, blue]]), heatB3);
addPanel(1, 3, contourDatasets([[b4WhiteTop, white], [b4RedTop, red], [b4BlueTop, blue], [b4WhiteLow, white], [b4RedLow, red], [b4BlueLow, blue]]), heatB4);

addPanel(2, 0, contourDatasets([[c1WhiteTop, white], [c1RedTop, red], [c1WhiteLow, white], [c1WhiteCorner, white], [c1RedLow, red], [c1BlueLow, blue]]), heatC1);
addPanel(2, 1, contourDatasets([[c2WhiteTop, white], [c2RedTop, red], [c2WhiteLow, white], [c2WhiteCorner, white], [c2RedLow, red], [c2BlueLow, blue]]), heatC2);
addPanel(2, 2, contourDatasets([[c3WhiteTop, white], [c3RedTop, red], [c3WhiteLow, white], [c3WhiteCorner, white], [c3RedLow, red], [c3BlueLow, blue]]), heatC3);
addPanel(2, 3, contourDatasets([[c4WhiteLeft, white], [c4WhiteRight, white], [c4WhiteCornerTop, white], [c4WhiteCornerL, white], [c4WhiteCornerR, white], [c4RedTop, red], [c4BlueTop, blue], [c4RedLow, red], [c4BlueLow, blue]]), heatC4);

addColorbar(0, barLabelsA);
addColorbar(1, barLabelsBC);
addColorbar(2, barLabelsBC);

addText("(a)", 10, 3, "tag");
addText("(b)", 10, 433, "tag");
addText("(c)", 10, 863, "tag");
addText(energies[0], 97, 2);
addText(energies[1], 312, 2);
addText(energies[2], 527, 2);
addText(energies[3], 738, 2);
addText("Convolved with FWHM of 3 arcsec", 92, 434);
addText("Convolved with FWHM of 6.8 arcsec", 92, 864);
addText("10%", 156, 1065, "lvl", "#eaf3f5");
addText("30%", 149, 1100, "lvl", "#d0213c");
addText("50%", 142, 1146, "lvl", "#4a20b0");
</script>
</body>
</html>
